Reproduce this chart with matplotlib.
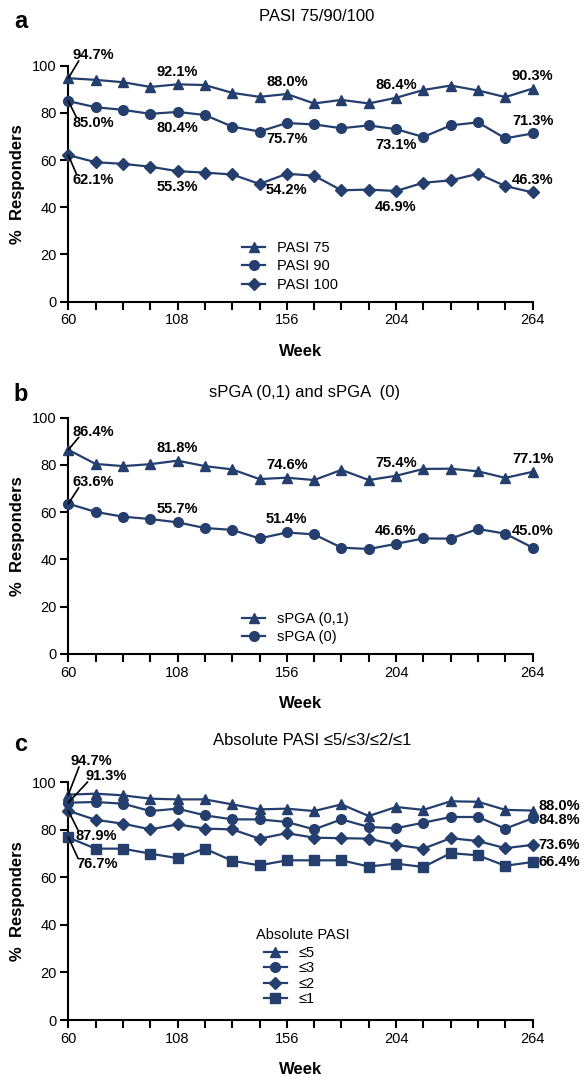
import matplotlib
matplotlib.use('Agg')
import matplotlib.pyplot as plt

plt.rcParams['font.family'] = ['Liberation Sans', 'DejaVu Sans']

# weeks on the x axis, and which of them get a tick label
weeks = [60, 72, 84, 96, 108, 120, 132, 144, 156, 168, 180, 192, 204, 216, 228, 240, 252, 264]
shown_weeks = [60, 108, 156, 204, 264]
yticks = [0, 20, 40, 60, 80, 100]

# a: PASI 75/90/100 (% responders)
pasi75 = [94.7, 94.0, 93.0, 91.0, 92.1, 91.8, 88.5, 86.8, 88.0, 84.0, 85.5, 84.0, 86.4, 89.7, 91.6, 89.5, 86.7, 90.3]
pasi90 = [85.0, 82.4, 81.3, 79.6, 80.4, 79.1, 74.2, 72.1, 75.7, 75.1, 73.5, 74.7, 73.1, 69.8, 74.7, 76.0, 69.2, 71.3]
pasi100 = [62.1, 59.1, 58.4, 57.2, 55.3, 54.7, 53.9, 49.9, 54.2, 53.4, 47.2, 47.5, 46.9, 50.4, 51.4, 54.2, 49.0, 46.3]

# b: sPGA
spga01 = [86.4, 80.4, 79.5, 80.3, 81.8, 79.5, 78.1, 74.0, 74.6, 73.6, 77.9, 73.6, 75.4, 78.3, 78.4, 77.3, 74.5, 77.1]
spga0 = [63.6, 60.1, 58.1, 57.1, 55.7, 53.3, 52.5, 48.9, 51.4, 50.6, 45.0, 44.4, 46.6, 48.9, 48.8, 52.9, 50.9, 45.0]

# c: absolute PASI
abs5 = [94.7, 95.1, 94.4, 93.0, 92.7, 92.7, 90.6, 88.5, 88.8, 87.8, 90.6, 85.7, 89.5, 88.3, 91.9, 91.7, 88.3, 88.0]
abs3 = [91.3, 91.6, 90.9, 87.8, 88.8, 86.0, 84.3, 84.3, 83.2, 80.1, 84.3, 81.1, 80.6, 82.9, 85.3, 85.3, 80.4, 84.8]
abs2 = [87.9, 84.1, 82.5, 80.1, 82.2, 80.4, 80.1, 76.2, 78.5, 76.6, 76.4, 76.2, 73.6, 72.0, 76.4, 75.2, 72.2, 73.6]
abs1 = [76.7, 72.0, 72.0, 69.9, 68.0, 72.0, 66.9, 65.0, 67.1, 67.1, 67.1, 64.5, 65.7, 64.3, 70.1, 69.2, 64.8, 66.4]

navy = '#243f6d'


def setup(ax):
    ax.set_xlim(60, 264)
    ax.set_ylim(0, 100)
    ax.spines['top'].set_visible(False)
    ax.spines['right'].set_visible(False)
    ax.spines['left'].set_linewidth(1.5)
    ax.spines['bottom'].set_linewidth(1.5)
    ax.set_xticks(weeks)
    ax.set_xticklabels([str(w) if w in shown_weeks else '' for w in weeks])
    ax.set_yticks(yticks)
    ax.tick_params(direction='out', length=5.5, width=1.5, labelsize=10.5, pad=3)
    ax.set_xlabel('Week', fontsize=12, fontweight='bold', labelpad=12)
    ax.set_ylabel('%  Responders', fontsize=12, fontweight='bold', labelpad=5)


def series(ax, y, marker, label, ms=7):
    ax.plot(weeks, y, color=navy, lw=1.6, marker=marker, ms=ms, label=label,
            clip_on=False, zorder=3)


def lab(ax, y, i, dx, dy, ha='center', rel=None):
    kw = {}
    if rel is not None:
        kw['arrowprops'] = dict(arrowstyle='-', color='black', lw=1.2, patchA=None,
                                shrinkA=0, shrinkB=0, relpos=rel)
    ax.annotate(f'{y[i]:.1f}%', (weeks[i], y[i]), xytext=(dx, dy),
                textcoords='offset points', ha=ha, va='center',
                fontsize=10.5, fontweight='bold', annotation_clip=False, **kw)


fig = plt.figure(figsize=(5.84, 10.77), dpi=100)

# ---- a ----
ax = fig.add_axes([0.117, 0.7199, 0.795, 0.2191])
setup(ax)
series(ax, pasi75, '^', 'PASI 75')
series(ax, pasi90, 'o', 'PASI 90')
series(ax, pasi100, 'D', 'PASI 100', ms=6)
lab(ax, pasi75, 0, 3, 16.5, 'left', (0.15, 0.1))
for i in [4, 8, 12, 17]:
    lab(ax, pasi75, i, 0, 9)
lab(ax, pasi90, 0, 3, -16, 'left', (0.1, 0.9))
for i in [4, 8, 12]:
    lab(ax, pasi90, i, 0, -11.5)
lab(ax, pasi90, 17, 0, 9)
lab(ax, pasi100, 0, 3, -18, 'left', (0.1, 0.9))
for i in [4, 8, 12]:
    lab(ax, pasi100, i, 0, -11.5)
lab(ax, pasi100, 17, 0, 9)
ax.legend(frameon=False, loc='upper left', bbox_to_anchor=(0.374, 0.257),
          borderpad=0, borderaxespad=0, handlelength=1.6, handletextpad=0.8,
          labelspacing=0.3, fontsize=10.5)

# ---- b ----
ax = fig.add_axes([0.117, 0.3928, 0.795, 0.2194])
setup(ax)
series(ax, spga01, '^', 'sPGA (0,1)')
series(ax, spga0, 'o', 'sPGA (0)')
lab(ax, spga01, 0, 3, 13, 'left', (0.15, 0.1))
for i in [4, 8, 12, 17]:
    lab(ax, spga01, i, 0, 9)
lab(ax, spga0, 0, 3, 15.5, 'left', (0.15, 0.1))
for i in [4, 8, 12]:
    lab(ax, spga0, i, 0, 9.5)
lab(ax, spga0, 17, 0, 12)
ax.legend(frameon=False, loc='upper left', bbox_to_anchor=(0.374, 0.178),
          borderpad=0, borderaxespad=0, handlelength=1.6, handletextpad=0.8,
          labelspacing=0.3, fontsize=10.5)

# ---- c ----
ax = fig.add_axes([0.117, 0.0529, 0.795, 0.221])
setup(ax)
series(ax, abs5, '^', '≤5')
series(ax, abs3, 'o', '≤3')
series(ax, abs2, 'D', '≤2', ms=6)
series(ax, abs1, 's', '≤1')
lab(ax, abs5, 0, 1.7, 24, 'left', (0.2, 0.1))
lab(ax, abs3, 0, 12.4, 19, 'left', (0.05, 0.1))
lab(ax, abs2, 0, 5.5, -18, 'left', (0.05, 0.9))
lab(ax, abs1, 0, 5.5, -19, 'left', (0.05, 0.9))
lab(ax, abs5, 17, 4, 3.5, 'left')
lab(ax, abs3, 17, 4, -1.5, 'left')
lab(ax, abs2, 17, 4, 0, 'left')
lab(ax, abs1, 17, 4, 0, 'left')
ax.text(0.505, 0.357, 'Absolute PASI', transform=ax.transAxes, ha='center',
        va='center', fontsize=10.5)
ax.legend(frameon=False, loc='upper left', bbox_to_anchor=(0.421, 0.311),
          borderpad=0, borderaxespad=0, handlelength=1.6, handletextpad=0.8,
          labelspacing=0.1, fontsize=10.5)

# panel letters and titles
fig.text(0.036, 0.9805, 'a', fontsize=17, fontweight='bold', ha='center', va='center')
fig.text(0.036, 0.6333, 'b', fontsize=17, fontweight='bold', ha='center', va='center')
fig.text(0.036, 0.3083, 'c', fontsize=17, fontweight='bold', ha='center', va='center')
fig.text(0.543, 0.985, 'PASI 75/90/100', fontsize=12, ha='center', va='center')
fig.text(0.522, 0.636, 'sPGA (0,1) and sPGA  (0)', fontsize=12, ha='center', va='center')
fig.text(0.534, 0.3129, 'Absolute PASI ≤5/≤3/≤2/≤1', fontsize=12, ha='center', va='center')

fig.savefig('out.png', dpi=100)
